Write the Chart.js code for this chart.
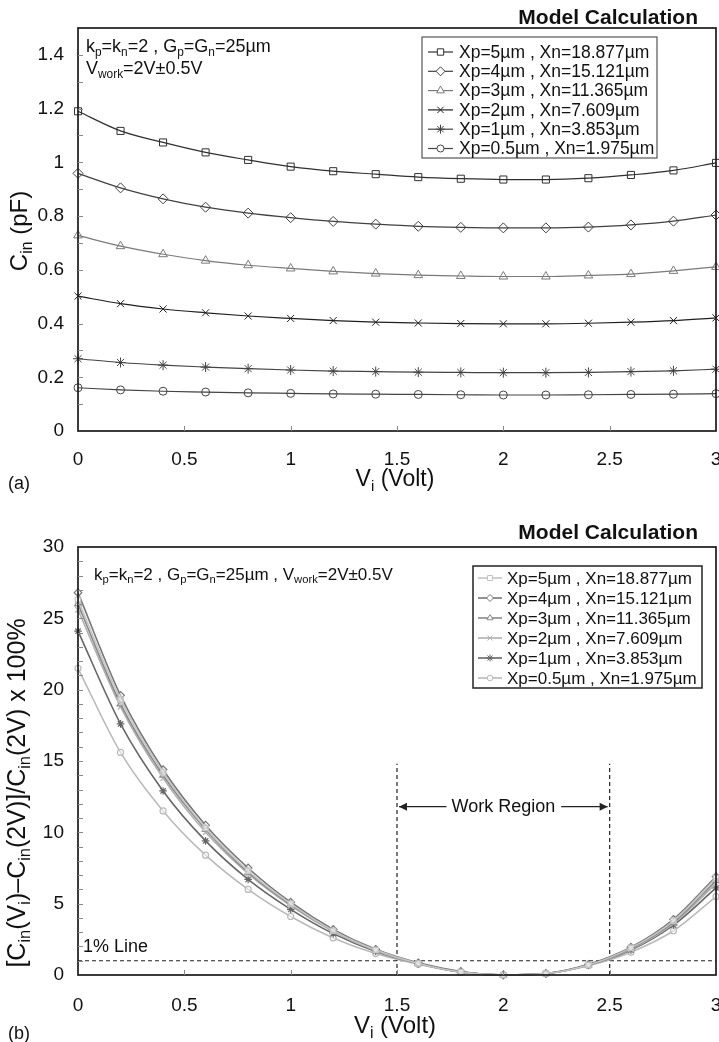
<!DOCTYPE html>
<html lang="en">
<head>
<meta charset="UTF-8" />
<title>Model Calculation - Cin vs Vi</title>
<script src="https://cdn.jsdelivr.net/npm/chart.js@4.4.0/dist/chart.umd.min.js"></script>
<style>
  html, body { margin: 0; padding: 0; background: #fff; overflow: hidden; }
  .wrap { position: absolute; left: 0; }
  #topWrap { top: 0; }
  #botWrap { top: 520px; }
</style>
</head>
<body>
<div class="wrap" id="topWrap"><canvas id="chartA" width="745" height="520"></canvas></div>
<div class="wrap" id="botWrap"><canvas id="chartB" width="745" height="522"></canvas></div>

<script>
// data
const vi = [0, 0.2, 0.4, 0.6, 0.8, 1.0, 1.2, 1.4, 1.6, 1.8, 2.0, 2.2, 2.4, 2.6, 2.8, 3.0];
const xTicks = [0, 0.5, 1, 1.5, 2, 2.5, 3];
const cinTicks = [0, 0.2, 0.4, 0.6, 0.8, 1, 1.2, 1.4];
const devTicks = [0, 5, 10, 15, 20, 25, 30];

const seriesLabels = [
  'Xp=5µm , Xn=18.877µm',
  'Xp=4µm , Xn=15.121µm',
  'Xp=3µm , Xn=11.365µm',
  'Xp=2µm , Xn=7.609µm',
  'Xp=1µm , Xn=3.853µm',
  'Xp=0.5µm , Xn=1.975µm'
];
const markers = ['rect', 'rectRot', 'triangle', 'crossRot', 'star', 'circle'];

// (a) input capacitance, pF
const cinXp5  = [1.190, 1.117, 1.074, 1.037, 1.009, 0.984, 0.967, 0.956, 0.945, 0.939, 0.936, 0.936, 0.941, 0.953, 0.970, 0.998];
const cinXp4  = [0.959, 0.905, 0.864, 0.833, 0.811, 0.794, 0.780, 0.770, 0.762, 0.758, 0.756, 0.756, 0.759, 0.767, 0.781, 0.804];
const cinXp3  = [0.728, 0.688, 0.658, 0.634, 0.617, 0.605, 0.594, 0.586, 0.580, 0.577, 0.575, 0.575, 0.579, 0.584, 0.596, 0.611];
const cinXp2  = [0.502, 0.474, 0.454, 0.440, 0.428, 0.419, 0.411, 0.405, 0.402, 0.400, 0.399, 0.399, 0.401, 0.405, 0.411, 0.421];
const cinXp1  = [0.269, 0.255, 0.245, 0.238, 0.232, 0.227, 0.223, 0.221, 0.219, 0.218, 0.217, 0.217, 0.218, 0.221, 0.224, 0.230];
const cinXp05 = [0.161, 0.153, 0.148, 0.145, 0.142, 0.140, 0.138, 0.137, 0.136, 0.135, 0.134, 0.134, 0.135, 0.136, 0.137, 0.139];

// (b) relative deviation, %
const devXp5  = [26.3, 19.3, 14.2, 10.3, 7.3, 5.0, 3.1, 1.75, 0.80, 0.20, 0, 0.10, 0.70, 1.90, 3.80, 6.8];
const devXp4  = [26.8, 19.6, 14.4, 10.5, 7.5, 5.1, 3.2, 1.80, 0.85, 0.25, 0, 0.10, 0.75, 1.95, 3.90, 6.9];
const devXp3  = [26.0, 19.0, 14.0, 10.2, 7.2, 4.95, 3.1, 1.75, 0.80, 0.20, 0, 0.10, 0.70, 1.85, 3.70, 6.6];
const devXp2  = [25.6, 18.8, 13.8, 10.0, 7.1, 4.85, 3.05, 1.70, 0.80, 0.20, 0, 0.10, 0.70, 1.80, 3.60, 6.4];
const devXp1  = [24.1, 17.6, 12.9, 9.4, 6.7, 4.6, 2.9, 1.65, 0.80, 0.20, 0, 0.10, 0.70, 1.75, 3.50, 6.1];
const devXp05 = [21.5, 15.6, 11.5, 8.4, 6.0, 4.1, 2.6, 1.50, 0.75, 0.20, 0, 0.10, 0.65, 1.60, 3.10, 5.5];

const onePercent = 1;
const workRegion = [1.5, 2.5];
const workLineTop = 14.8;
const workArrowLevel = 11.8;

const cinSeries = [cinXp5, cinXp4, cinXp3, cinXp2, cinXp1, cinXp05];
const devSeries = [devXp5, devXp4, devXp3, devXp2, devXp1, devXp05];
const colorsA = ['#303030', '#404040', '#7a7a7a', '#202020', '#444444', '#444444'];
const colorsB = ['#c4c4c4', '#767676', '#8a8a8a', '#b0b0b0', '#666666', '#bababa'];

//helpers
const FONT = '"Liberation Sans", Arial, Helvetica, sans-serif';
const toXY = (ys) => ys.map((y, i) => ({ x: vi[i], y: y }));

function richWidth(ctx, parts, size) {
  let w = 0;
  parts.forEach(([t, sub]) => {
    ctx.font = (sub ? size * 0.66 : size) + 'px ' + FONT;
    w += ctx.measureText(t).width;
  });
  return w;
}

function drawRich(ctx, parts, x, y, size, align) {
  const w = richWidth(ctx, parts, size);
  let cx = align === 'center' ? x - w / 2 : align === 'right' ? x - w : x;
  ctx.textBaseline = 'middle';
  ctx.textAlign = 'left';
  parts.forEach(([t, sub]) => {
    ctx.font = (sub ? size * 0.66 : size) + 'px ' + FONT;
    ctx.fillText(t, cx, sub ? y + size * 0.3 : y);
    cx += ctx.measureText(t).width;
  });
}

function drawRotated(ctx, parts, x, y, size) {
  ctx.save();
  ctx.translate(x, y);
  ctx.rotate(-Math.PI / 2);
  drawRich(ctx, parts, 0, 0, size, 'center');
  ctx.restore();
}

function drawFrame(chart) {
  const { ctx, chartArea: a } = chart;
  ctx.save();
  ctx.strokeStyle = '#1a1a1a';
  ctx.lineWidth = 1.7;
  ctx.strokeRect(a.left, a.top, a.right - a.left, a.bottom - a.top);
  ctx.restore();
}

function drawMinorTicks(chart, yStep, yMax, xStep) {
  const { ctx, chartArea: a, scales } = chart;
  ctx.save();
  ctx.strokeStyle = '#888';
  ctx.lineWidth = 1;
  ctx.beginPath();
  for (let v = yStep; v <= yMax + 1e-9; v += yStep) {
    const py = Math.round(scales.y.getPixelForValue(v)) + 0.5;
    ctx.moveTo(a.left, py);
    ctx.lineTo(a.left + 5, py);
  }
  for (let v = xStep; v < scales.x.max - 1e-9; v += xStep) {
    const px = Math.round(scales.x.getPixelForValue(v)) + 0.5;
    ctx.moveTo(px, a.bottom);
    ctx.lineTo(px, a.bottom - 5);
  }
  ctx.stroke();
  ctx.restore();
}

function drawLegendBox(chart, box, rowY, rowStep, lineX, textX, size, frameColor, frameWidth, nSets) {
  const { ctx } = chart;
  ctx.save();
  ctx.fillStyle = '#fff';
  ctx.fillRect(box[0], box[1], box[2] - box[0], box[3] - box[1]);
  ctx.strokeStyle = frameColor;
  ctx.lineWidth = frameWidth;
  ctx.strokeRect(box[0], box[1], box[2] - box[0], box[3] - box[1]);
  chart.data.datasets.slice(0, nSets).forEach((ds, i) => {
    const y = rowY + i * rowStep;
    ctx.strokeStyle = ds.borderColor;
    ctx.lineWidth = ds.borderWidth;
    ctx.beginPath();
    ctx.moveTo(lineX[0], y);
    ctx.lineTo(lineX[1], y);
    ctx.stroke();
    ctx.fillStyle = '#fff';
    ctx.lineWidth = 1;
    Chart.helpers.drawPoint(ctx, {
      pointStyle: ds.pointStyle, radius: ds.legendRadius, rotation: 0, borderWidth: 1
    }, (lineX[0] + lineX[1]) / 2, y);
    ctx.fillStyle = '#111';
    ctx.font = size + 'px ' + FONT;
    ctx.textAlign = 'left';
    ctx.textBaseline = 'middle';
    ctx.fillText(ds.label, textX, y + 1);
  });
  ctx.restore();
}

function drawTitle(ctx, text, x, y) {
  ctx.save();
  ctx.fillStyle = '#111';
  ctx.font = 'bold 21px ' + FONT;
  ctx.textAlign = 'right';
  ctx.textBaseline = 'middle';
  ctx.fillText(text, x, y);
  ctx.restore();
}

const tickFont = { family: FONT, size: 19 };
const fixTicks = (values) => (scale) => {
  scale.ticks = values.map((v) => ({ value: v }));
};

// chart (a)
const annotA = {
  id: 'annotA',
  afterDraw(chart) {
    const { ctx } = chart;
    drawFrame(chart);
    drawMinorTicks(chart, 0.1, 1.45, 0.5);
    drawLegendBox(chart, [422, 37, 657, 158], 52, 19.3, [428, 453], 459, 17.5, '#555', 1.2, 6);
    ctx.save();
    ctx.fillStyle = '#111';
    drawTitle(ctx, 'Model Calculation', 698, 18);
    drawRich(ctx, [['k'], ['p', 1], ['=k'], ['n', 1], ['=2 , G'], ['p', 1], ['=G'], ['n', 1], ['=25µm']], 86, 47, 18, 'left');
    drawRich(ctx, [['V'], ['work', 1], ['=2V±0.5V']], 86, 69, 18, 'left');
    drawRich(ctx, [['V'], ['i', 1], [' (Volt)']], 395, 480, 23, 'center');
    drawRotated(ctx, [['C'], ['in', 1], [' (pF)']], 20, 231, 24);
    ctx.font = '18px ' + FONT;
    ctx.textAlign = 'left';
    ctx.textBaseline = 'middle';
    ctx.fillText('(a)', 8, 484);
    ctx.restore();
  }
};

const chartA = new Chart(document.getElementById('chartA'), {
  type: 'line',
  data: {
    datasets: cinSeries.map((ys, i) => ({
      label: seriesLabels[i],
      data: toXY(ys),
      borderColor: colorsA[i],
      borderWidth: 1.2,
      pointStyle: markers[i],
      pointRadius: markers[i] === 'circle' ? 4 : 5,
      legendRadius: markers[i] === 'circle' ? 3.5 : 4.5,
      pointBorderWidth: 1,
      pointBorderColor: colorsA[i],
      pointBackgroundColor: 'rgba(255,255,255,0)',
      cubicInterpolationMode: 'monotone',
      clip: false
    }))
  },
  options: {
    responsive: false,
    animation: false,
    layout: { padding: { top: 28, left: 0, right: 29, bottom: 0 } },
    plugins: { legend: { display: false }, tooltip: { enabled: false } },
    scales: {
      x: {
        type: 'linear', min: 0, max: 3,
        afterBuildTicks: fixTicks(xTicks),
        afterFit: (s) => { s.height = 89; },
        grid: { display: false, drawTicks: false },
        border: { display: false },
        ticks: { font: tickFont, color: '#111', padding: 17, maxRotation: 0, callback: (v) => String(v) }
      },
      y: {
        min: 0, max: 1.5,
        afterBuildTicks: fixTicks(cinTicks),
        afterFit: (s) => { s.width = 78; },
        grid: { display: false, drawTicks: false },
        border: { display: false },
        ticks: { font: tickFont, color: '#111', padding: 14, callback: (v) => String(v) }
      }
    }
  },
  plugins: [annotA]
});

// chart (b)
const annotB = {
  id: 'annotB',
  afterDraw(chart) {
    const { ctx, scales } = chart;
    drawFrame(chart);
    drawMinorTicks(chart, 1, 29.5, 0.5);
    drawLegendBox(chart, [473, 46, 702, 168], 58, 20, [478, 502], 507, 17, '#222', 1.5, 6);
    ctx.save();
    ctx.fillStyle = '#111';
    drawTitle(ctx, 'Model Calculation', 698, 13);
    drawRich(ctx, [['k'], ['p', 1], ['=k'], ['n', 1], ['=2 , G'], ['p', 1], ['=G'], ['n', 1], ['=25µm , V'], ['work', 1], ['=2V±0.5V']], 94, 55, 17, 'left');
    drawRich(ctx, [['V'], ['i', 1], [' (Volt)']], 395, 506, 24, 'center');
    drawRotated(ctx, [['[C'], ['in', 1], ['(V'], ['i', 1], [')–C'], ['in', 1], ['(2V)]/C'], ['in', 1], ['(2V) x 100%']], 18, 273, 25);

    // 1% line label
    ctx.font = '18px ' + FONT;
    ctx.textAlign = 'left';
    ctx.textBaseline = 'middle';
    ctx.fillText('1% Line', chart.chartArea.left + 5, scales.y.getPixelForValue(onePercent) - 14);
    ctx.fillText('(b)', 8, 514);

    // work region arrows
    const xl = scales.x.getPixelForValue(workRegion[0]);
    const xr = scales.x.getPixelForValue(workRegion[1]);
    const ya = scales.y.getPixelForValue(workArrowLevel);
    ctx.font = '18px ' + FONT;
    const label = 'Work Region';
    const tw = ctx.measureText(label).width;
    const cx = (xl + xr) / 2;
    ctx.textAlign = 'center';
    ctx.fillText(label, cx, ya);
    ctx.strokeStyle = '#222';
    ctx.lineWidth = 1.2;
    ctx.beginPath();
    ctx.moveTo(xl + 2, ya); ctx.lineTo(cx - tw / 2 - 5, ya);
    ctx.moveTo(cx + tw / 2 + 6, ya); ctx.lineTo(xr - 2, ya);
    ctx.stroke();
    ctx.fillStyle = '#222';
    ctx.beginPath();
    ctx.moveTo(xl + 2, ya); ctx.lineTo(xl + 10, ya - 4); ctx.lineTo(xl + 10, ya + 4); ctx.closePath();
    ctx.moveTo(xr - 2, ya); ctx.lineTo(xr - 10, ya - 4); ctx.lineTo(xr - 10, ya + 4); ctx.closePath();
    ctx.fill();
    ctx.restore();
  }
};

const guideStyle = {
  borderColor: '#222', borderWidth: 1.2, borderDash: [4, 3],
  pointRadius: 0, tension: 0, clip: false
};

const chartB = new Chart(document.getElementById('chartB'), {
  type: 'line',
  data: {
    datasets: devSeries.map((ys, i) => ({
      label: seriesLabels[i],
      data: toXY(ys),
      borderColor: colorsB[i],
      borderWidth: 1.6,
      pointStyle: markers[i],
      pointRadius: markers[i] === 'circle' ? 3 : 3.8,
      legendRadius: markers[i] === 'circle' ? 2.8 : 3.5,
      pointBorderWidth: 1.2,
      pointBorderColor: colorsB[i],
      pointBackgroundColor: 'rgba(255,255,255,0.5)',
      cubicInterpolationMode: 'monotone',
      clip: false
    })).concat([
      Object.assign({ label: '1% Line', data: [{ x: 0, y: onePercent }, { x: 3, y: onePercent }] }, guideStyle),
      Object.assign({ label: 'left', data: [{ x: workRegion[0], y: 0 }, { x: workRegion[0], y: workLineTop }] }, guideStyle),
      Object.assign({ label: 'right', data: [{ x: workRegion[1], y: 0 }, { x: workRegion[1], y: workLineTop }] }, guideStyle)
    ])
  },
  options: {
    responsive: false,
    animation: false,
    layout: { padding: { top: 27, left: 0, right: 29, bottom: 0 } },
    plugins: { legend: { display: false }, tooltip: { enabled: false } },
    scales: {
      x: {
        type: 'linear', min: 0, max: 3,
        afterBuildTicks: fixTicks(xTicks),
        afterFit: (s) => { s.height = 67; },
        grid: { display: false, drawTicks: false },
        border: { display: false },
        ticks: { font: tickFont, color: '#111', padding: 19, maxRotation: 0, callback: (v) => String(v) }
      },
      y: {
        min: 0, max: 30,
        afterBuildTicks: fixTicks(devTicks),
        afterFit: (s) => { s.width = 78; },
        grid: { display: false, drawTicks: false },
        border: { display: false },
        ticks: { font: tickFont, color: '#111', padding: 14, callback: (v) => String(v) }
      }
    }
  },
  plugins: [annotB]
});
</script>
</body>
</html>
